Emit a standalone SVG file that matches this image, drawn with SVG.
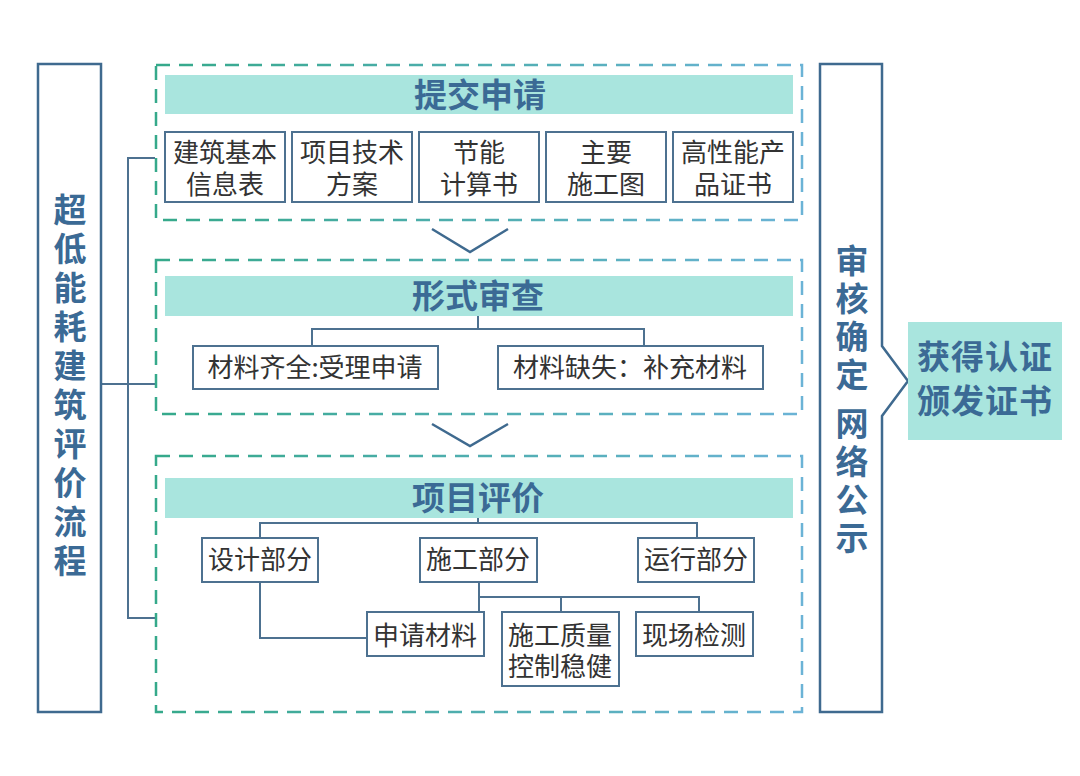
<svg xmlns="http://www.w3.org/2000/svg" width="1080" height="776" viewBox="0 0 1080 776">
<defs>
<linearGradient id="dg" gradientUnits="userSpaceOnUse" x1="155" y1="0" x2="802" y2="0">
<stop offset="0" stop-color="#35a98a"/>
<stop offset="1" stop-color="#6bb3d6"/>
</linearGradient>
<style>
.dash{fill:none;stroke:url(#dg);stroke-width:2.5;stroke-dasharray:14 9}
.bar{fill:#a9e5de}
.box{fill:#fff;stroke:#4d7190;stroke-width:2}
.ln{fill:none;stroke:#4d7190;stroke-width:2}
.side{fill:#fff;stroke:#3f6a8f;stroke-width:2.5}
.chev{fill:none;stroke:#3f6a8f;stroke-width:2.5}
.t{font-family:"Noto Sans CJK SC","Noto Sans",sans-serif;font-size:26px;fill:#333;text-anchor:middle}
.h{font-family:"Noto Sans CJK SC","Noto Sans",sans-serif;font-size:33px;font-weight:bold;fill:#3b6a95;text-anchor:middle}
.r{font-family:"Noto Sans CJK SC","Noto Sans",sans-serif;font-size:33px;font-weight:bold;fill:#3b6a95;text-anchor:middle;letter-spacing:1px}
.v{font-family:"Noto Sans CJK SC","Noto Sans",sans-serif;font-size:33px;font-weight:bold;fill:#3b6a95;writing-mode:vertical-rl;text-anchor:start}
</style>
</defs>
<rect width="1080" height="776" fill="#fff"/>

<g id="connectors">
<polyline class="ln" points="155,158 128,158 128,618 155,618"/>
<line class="ln" x1="101" y1="384" x2="155" y2="384"/>
<polyline class="ln" points="478,316 478,329"/>
<polyline class="ln" points="312,346 312,329 644,329 644,346"/>
<polyline class="ln" points="478,518 478,523"/>
<polyline class="ln" points="260,538 260,523 697,523 697,538"/>
<polyline class="ln" points="479,582 479,612"/>
<polyline class="ln" points="479,597 699,597 699,612"/>
<line class="ln" x1="561" y1="597" x2="561" y2="612"/>
<polyline class="ln" points="260,582 260,638 367,638"/>
<polyline class="chev" points="432,229 470,252 508,229"/>
<polyline class="chev" points="432,424 470,446 508,424"/>
</g>

<g id="left-title">
<rect class="side" x="38" y="64" width="63" height="648"/>
<text class="v" x="70" y="193" letter-spacing="6">超低能耗建筑评价流程</text>
</g>

<g id="stage1">
<rect class="dash" x="156" y="65" width="646" height="155"/>
<rect class="bar" x="165" y="75" width="628" height="39"/>
<text class="h" x="480" y="107">提交申请</text>
</g>
<g id="n-jzjb"><rect class="box" x="165" y="132" width="120" height="70"/><text class="t" x="225" y="162">建筑基本<tspan x="225" dy="32">信息表</tspan></text></g>
<g id="n-xmjs"><rect class="box" x="292" y="132" width="120" height="70"/><text class="t" x="352" y="162">项目技术<tspan x="352" dy="32">方案</tspan></text></g>
<g id="n-jnjs"><rect class="box" x="419" y="132" width="120" height="70"/><text class="t" x="479" y="162">节能<tspan x="479" dy="32">计算书</tspan></text></g>
<g id="n-zysg"><rect class="box" x="546" y="132" width="120" height="70"/><text class="t" x="606" y="162">主要<tspan x="606" dy="32">施工图</tspan></text></g>
<g id="n-gxn"><rect class="box" x="673" y="132" width="120" height="70"/><text class="t" x="733" y="162">高性能产<tspan x="733" dy="32">品证书</tspan></text></g>

<g id="stage2">
<rect class="dash" x="156" y="260" width="646" height="154"/>
<rect class="bar" x="165" y="276" width="628" height="40"/>
<text class="h" x="478" y="308">形式审查</text>
</g>
<g id="n-qq"><rect class="box" x="193" y="346" width="245" height="43"/><text class="t" x="315" y="377">材料齐全:受理申请</text></g>
<g id="n-qs"><rect class="box" x="498" y="346" width="265" height="43"/><text class="t" x="630" y="377">材料缺失：补充材料</text></g>

<g id="stage3">
<rect class="dash" x="156" y="456" width="646" height="256"/>
<rect class="bar" x="165" y="478" width="628" height="40"/>
<text class="h" x="478" y="510">项目评价</text>
</g>
<g id="n-sj"><rect class="box" x="202" y="538" width="116" height="44"/><text class="t" x="260" y="569">设计部分</text></g>
<g id="n-sg"><rect class="box" x="420" y="538" width="117" height="44"/><text class="t" x="478" y="569">施工部分</text></g>
<g id="n-yx"><rect class="box" x="638" y="538" width="116" height="44"/><text class="t" x="696" y="569">运行部分</text></g>
<g id="n-sqcl"><rect class="box" x="367" y="612" width="117" height="44"/><text class="t" x="425" y="645">申请材料</text></g>
<g id="n-sgzl"><rect class="box" x="502" y="612" width="117" height="74"/><text class="t" x="560" y="645">施工质量<tspan x="560" dy="31">控制稳健</tspan></text></g>
<g id="n-xcjc"><rect class="box" x="636" y="612" width="117" height="44"/><text class="t" x="694" y="645">现场检测</text></g>

<g id="right-title">
<path class="side" d="M820,64 H882 V346 L908,381 L882,416 V712 H820 Z"/>
<text class="v" x="852" y="244" letter-spacing="5">审核确定</text>
<text class="v" x="852" y="407" letter-spacing="5">网络公示</text>
</g>

<g id="result">
<rect class="bar" x="908" y="322" width="154" height="118"/>
<text class="r" x="985" y="369">获得认证<tspan x="985" dy="44">颁发证书</tspan></text>
</g>
</svg>
